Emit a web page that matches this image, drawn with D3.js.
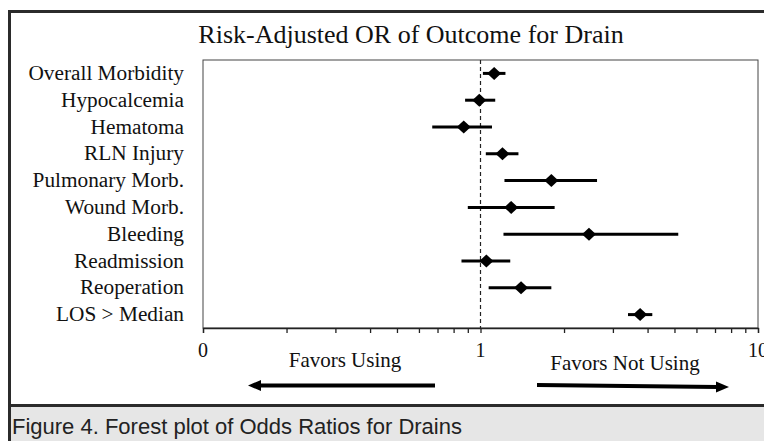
<!DOCTYPE html>
<html><head><meta charset="utf-8">
<script src="https://cdn.jsdelivr.net/npm/d3@7"></script>
<style>body{margin:0;background:#fff}svg{display:block}</style>
</head><body>
<svg id="c" width="764" height="441"></svg>
<script>
const categories = ["Overall Morbidity","Hypocalcemia","Hematoma","RLN Injury","Pulmonary Morb.","Wound Morb.","Bleeding","Readmission","Reoperation","LOS > Median"];
const oddsRatio = [1.12, 0.99, 0.87, 1.20, 1.80, 1.29, 2.46, 1.05, 1.40, 3.76];
const ciLower   = [1.02, 0.88, 0.67, 1.045, 1.22, 0.90, 1.21, 0.854, 1.07, 3.40];
const ciUpper   = [1.23, 1.13, 1.10, 1.37, 2.63, 1.85, 5.16, 1.28, 1.80, 4.16];
const tickValues = [0.1, 1, 10];
const tickLabels = ["0", "1", "10"];
const minorTicks = [0.2,0.3,0.4,0.5,0.6,0.7,0.8,0.9,2,3,4,5,6,7,8,9];

const svg = d3.select("#c");
const serif = "'Liberation Serif','Times New Roman',serif";

// outer frame
svg.append("rect").attr("x",9.5).attr("y",11.5).attr("width",770).attr("height",394)
  .attr("fill","#fff").attr("stroke","#2b2b2b").attr("stroke-width",3);
// caption box
svg.append("rect").attr("x",11).attr("y",407).attr("width",760).attr("height",40).attr("fill","#e6e6e6");
svg.append("line").attr("x1",9.5).attr("x2",9.5).attr("y1",405).attr("y2",441).attr("stroke","#2b2b2b").attr("stroke-width",3);
svg.append("text").attr("x",12).attr("y",434).attr("font-family","'Liberation Sans',Arial,sans-serif")
  .attr("font-size",22).attr("fill","#222").text("Figure 4. Forest plot of Odds Ratios for Drains");

const m = {left:203, right:758, top:60, bottom:328};
const x = d3.scaleLog().domain([0.1,10]).range([m.left,m.right]);
const y = d3.scaleBand().domain(categories).range([m.top,m.bottom]);

// title
svg.append("text").attr("x",411).attr("y",43).attr("text-anchor","middle")
  .attr("font-family",serif).attr("font-size",26).attr("fill","#111")
  .text("Risk-Adjusted OR of Outcome for Drain");

// plot box
svg.append("rect").attr("x",m.left).attr("y",m.top).attr("width",m.right-m.left).attr("height",m.bottom-m.top)
  .attr("fill","none").attr("stroke","#444").attr("stroke-width",1);

// axis
const axis = d3.axisBottom(x).tickValues(tickValues.concat(minorTicks)).tickSize(5)
  .tickFormat(() => "");
const ax = svg.append("g").attr("transform",`translate(0,${m.bottom})`).call(axis);
ax.select(".domain").attr("stroke","#222").attr("stroke-width",1.3);
ax.selectAll(".tick line").attr("stroke","#222").attr("stroke-width",1.3);
svg.selectAll("text.tl").data(tickValues).join("text").attr("class","tl")
  .attr("x",d=>x(d)).attr("y",357).attr("text-anchor","middle")
  .attr("font-family",serif).attr("font-size",20).attr("fill","#111")
  .text((d,i)=>tickLabels[i]);

// reference line
svg.append("line").attr("x1",x(1)).attr("x2",x(1)).attr("y1",m.top).attr("y2",m.bottom)
  .attr("stroke","#222").attr("stroke-width",1.2).attr("stroke-dasharray","4,3");

// category labels
svg.selectAll("text.cat").data(categories).join("text").attr("class","cat")
  .attr("x",184).attr("y",d=>y(d)+y.bandwidth()/2+6.5).attr("text-anchor","end")
  .attr("font-family",serif).attr("font-size",21.3).attr("fill","#111").text(d=>d);

// CIs
const g = svg.append("g");
g.selectAll("line.ci").data(categories).join("line").attr("class","ci")
  .attr("x1",(d,i)=>x(ciLower[i])).attr("x2",(d,i)=>x(ciUpper[i]))
  .attr("y1",d=>y(d)+y.bandwidth()/2).attr("y2",d=>y(d)+y.bandwidth()/2)
  .attr("stroke","#000").attr("stroke-width",3);
const hw = 7, hh = 6.5;
g.selectAll("path.pt").data(categories).join("path").attr("class","pt")
  .attr("d",(d,i)=>{const cx=x(oddsRatio[i]), cy=y(d)+y.bandwidth()/2;
    return `M${cx-hw},${cy}L${cx},${cy-hh}L${cx+hw},${cy}L${cx},${cy+hh}Z`;})
  .attr("fill","#000");

// favors labels & arrows
svg.append("text").attr("x",345).attr("y",367).attr("text-anchor","middle")
  .attr("font-family",serif).attr("font-size",21).attr("fill","#111").text("Favors Using");
svg.append("text").attr("x",625).attr("y",370).attr("text-anchor","middle")
  .attr("font-family",serif).attr("font-size",21).attr("fill","#111").text("Favors Not Using");
svg.append("line").attr("x1",435).attr("y1",385.5).attr("x2",258).attr("y2",385.5).attr("stroke","#000").attr("stroke-width",4);
svg.append("path").attr("d","M248,385.5L261,380L261,391Z").attr("fill","#000");
svg.append("line").attr("x1",537).attr("y1",385).attr("x2",718).attr("y2",387).attr("stroke","#000").attr("stroke-width",4);
svg.append("path").attr("d","M729,387L716,381.5L716,392.5Z").attr("fill","#000");
</script>
</body></html>
